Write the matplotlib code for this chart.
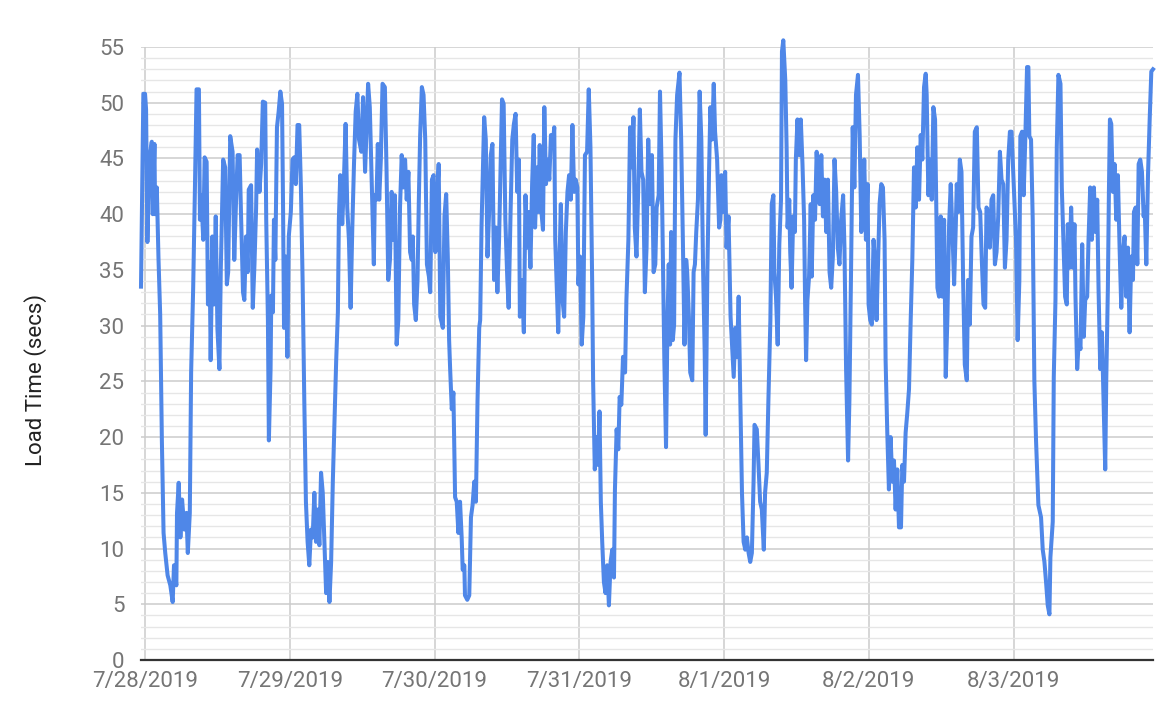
# -*- coding: utf-8 -*-
"""
Page load time over one week (7/28/2019 - 8/3/2019)
values read off the chart, time in hours since 7/28/2019 00:00
"""

import matplotlib
matplotlib.use('Agg')
import matplotlib.pyplot as plt
from matplotlib.ticker import MultipleLocator

plt.rcParams['font.family'] = ['Roboto', 'DejaVu Sans']

## data
day_labels = ['7/28/2019', '7/29/2019', '7/30/2019', '7/31/2019', '8/1/2019', '8/2/2019', '8/3/2019']

hours_0728 = [-0.67, -0.28, 0.0, 0.17, 0.39, 0.73, 1.12, 1.28, 1.56, 1.67, 1.95, 2.23, 2.51, 2.79, 3.07, 3.35,
              3.74, 4.19, 4.58, 4.8, 5.19, 5.3, 5.58, 5.86, 6.14, 6.53, 6.86, 7.09, 7.42, 7.64, 7.98, 8.26,
              8.54, 8.93, 9.1, 9.32, 9.65, 9.88, 10.21, 10.43, 10.71, 10.88, 11.16, 11.44, 11.72, 12.0, 12.33,
              12.56, 12.95, 13.28, 13.56, 13.78, 14.12, 14.51, 14.79, 15.07, 15.35, 15.68, 15.9, 16.24, 16.46,
              16.74, 17.02, 17.19, 17.58, 17.86, 18.14, 18.41, 18.58, 18.97, 19.25, 19.53, 19.92, 20.09, 20.37,
              20.53, 20.81, 20.93, 21.2, 21.37, 21.6, 21.87, 22.15, 22.43, 22.71, 22.88, 23.04, 23.32, 23.6, 23.83]
load_0728 = [33.5, 50.8, 50.8, 49.4, 37.5, 45, 46.5, 40, 46.3, 40, 42.4, 36, 31, 19.7, 11.4, 9.6,
             7.6, 6.7, 5.2, 8.5, 6.7, 13.2, 15.9, 11, 14.4, 11.7, 13.2, 9.6, 13.2, 25.8, 33.4, 42,
             51.2, 51.2, 39.5, 41.7, 37.7, 45.1, 44.7, 31.9, 35.7, 26.9, 38, 31.9, 39.8, 29.7, 26.1,
             35.1, 44.9, 44.2, 33.7, 34.8, 47, 45.6, 35.9, 40.9, 45.3, 45.3, 40.2, 33, 32.3,
             38, 34.8, 42.2, 42.6, 31.6, 35.5, 40.5, 45.8, 42, 44.5, 50.1, 50, 39.5, 30.5,
             19.7, 26.1, 32.7, 31.2, 39.5, 35.9, 47.8, 49.2, 51, 49.9, 40.6, 29.8, 36.2, 27.2, 38]

hours_0729 = [24.17, 24.45, 24.72, 25.0, 25.28, 25.56, 25.84, 26.12, 26.4, 26.67, 26.95, 27.23, 27.51, 27.79,
              28.07, 28.34, 28.62, 28.9, 29.18, 29.46, 29.74, 30.02, 30.29, 30.57, 30.85, 31.13, 31.41, 31.69,
              31.97, 32.13, 32.36, 32.69, 32.91, 33.25, 33.52, 33.8, 34.08, 34.36, 34.64, 34.92, 35.2, 35.47,
              35.86, 36.14, 36.48, 36.7, 36.98, 37.26, 37.54, 37.93, 38.09, 38.37, 38.59, 38.82, 39.09, 39.37,
              39.76, 40.04, 40.32, 40.6, 40.88, 41.16, 41.43, 41.71, 41.99, 42.27, 42.55, 42.83, 43.11, 43.38,
              43.66, 43.94, 44.22, 44.39, 44.61, 44.89, 45.17, 45.39, 45.61, 45.89, 46.17, 46.45, 46.73, 47.06,
              47.28, 47.56, 47.84, 48.12, 48.4, 48.68, 48.95]
load_0729 = [40.2, 44.9, 45.1, 42.7, 48, 48, 42.4, 34.1, 23.3, 14.2, 10.6, 8.5, 11.7, 11,
             15, 10.6, 13.5, 10.3, 16.8, 15, 10.6, 6, 8.8, 5.2, 8.8, 16, 21.5, 26.9,
             31.2, 39.5, 43.5, 39.1, 42, 48.1, 40.6, 37.7, 31.6, 38.8, 44.5, 49.2, 50.8, 46.7,
             45.6, 50.5, 43.8, 47.4, 51.7, 49.6, 43.8, 35.5, 41.7, 41.3, 46.3, 41.3, 44.9, 51.7,
             51.4, 43.8, 34.1, 35.9, 42, 37.7, 41.7, 28.3, 30.5, 40.6, 45.3, 42.4, 44.9, 41.3,
             43.8, 36.6, 35.9, 38, 31.9, 30.5, 34.1, 41.3, 47.1, 51.4, 50.7, 46.7, 35.5, 34.4,
             33, 43.1, 43.5, 36.6, 41.3, 44.5, 30.8]

hours_0730 = [49.37, 49.64, 49.92, 50.19, 50.41, 50.58, 50.85, 51.12, 51.4, 51.67, 51.95, 52.22, 52.49, 52.66,
              52.93, 53.04, 53.42, 53.75, 54.03, 54.3, 54.58, 54.85, 55.12, 55.4, 55.56, 55.78, 56.06, 56.22,
              56.49, 56.77, 57.04, 57.32, 57.59, 57.86, 58.14, 58.41, 58.69, 58.96, 59.18, 59.45, 59.73, 60.06,
              60.28, 60.6, 60.88, 61.15, 61.43, 61.7, 61.97, 62.14, 62.47, 62.8, 63.07, 63.34, 63.56, 63.89,
              64.17, 64.44, 64.66, 64.99, 65.21, 65.43, 65.65, 65.97, 66.19, 66.47, 66.74, 67.02, 67.29, 67.56,
              67.84, 68.0, 68.28, 68.5, 68.71, 68.93, 69.21, 69.48, 69.76, 70.03, 70.3, 70.58, 70.85, 71.13,
              71.4, 71.67, 71.84, 72.11, 72.39, 72.66, 72.93]
load_0730 = [29.8, 39.8, 41.8, 36.2, 28.7, 26.1, 22.5, 24, 14.6, 14.2, 11.4, 14.2, 11, 8.1,
             8.5, 5.8, 5.4, 5.8, 12.8, 13.9, 16, 14.2, 23.3, 29.8, 30.5, 38.8, 45.3, 48.7,
             46.7, 36.2, 40.2, 45.3, 46.3, 34.1, 38.8, 33, 37.7, 44.5, 50.3, 49.9, 39.5, 34.1,
             31.6, 40.2, 46.7, 48.1, 49, 42, 44.9, 30.8, 34.1, 29.4, 41.7, 37, 40.2, 35.2,
             42.7, 47.1, 38.8, 44.2, 40.2, 46.2, 40.6, 38.6, 49.6, 42.7, 44.9, 43.1, 47.1, 46,
             47.8, 37.7, 33, 29.4, 35.9, 40.9, 32.3, 30.8, 38.4, 42, 43.5, 41.3, 48, 42,
             43.1, 42.4, 33.7, 36.2, 28.3, 30.8, 45.3]

hours_0731 = [73.28, 73.56, 73.84, 74.12, 74.28, 74.56, 74.84, 75.12, 75.34, 75.56, 75.79, 76.07, 76.34, 76.62,
              76.9, 77.18, 77.46, 77.74, 77.9, 78.18, 78.46, 78.68, 78.96, 79.24, 79.58, 79.8, 80.13, 80.41,
              80.69, 80.97, 81.19, 81.47, 81.75, 82.03, 82.3, 82.58, 82.86, 83.14, 83.42, 83.7, 84.03, 84.31,
              84.59, 84.81, 85.15, 85.37, 85.65, 85.93, 86.09, 86.37, 86.6, 86.82, 87.04, 87.21, 87.49, 87.71,
              87.93, 88.21, 88.6, 88.88, 89.16, 89.43, 89.71, 89.88, 90.16, 90.38, 90.72, 90.94, 91.16, 91.38,
              91.66, 91.94, 92.22, 92.5, 92.78, 92.94, 93.22, 93.5, 93.72, 94.0, 94.28, 94.5, 94.84, 95.17,
              95.39, 95.56, 95.84, 96.17, 96.4, 96.73, 97.07]
load_0731 = [45.6, 51.2, 46, 34.1, 25.1, 17.1, 20, 17.5, 22.3, 14.2, 10.6, 7, 6, 8.5,
             4.9, 8.8, 9.9, 7.4, 15.3, 20.7, 18.9, 23.6, 22.9, 27.2, 25.8, 32.3, 37.7, 47.8,
             44.2, 48.7, 38.8, 36.2, 42, 49.4, 43.8, 43.1, 33, 37, 46.7, 40.9, 45.3, 34.8,
             35.5, 40.6, 41.7, 51, 43.8, 32.6, 26.9, 19.1, 30.1, 35.5, 28.3, 38.4, 28.7, 30.1,
             46.7, 50.7, 52.7, 46.7, 37.7, 28.3, 35.9, 34.8, 30.8, 25.8, 25.1, 34.8, 35.5, 38.4,
             41.3, 51, 46.7, 35.5, 27.5, 20.2, 34.8, 43.8, 49.6, 46.7, 51.7, 47.4, 44.9, 38.8,
             39.5, 43.5, 40.2, 43.8, 37, 39.8, 30.8]

hours_0801 = [97.59, 97.86, 98.14, 98.41, 98.69, 98.96, 99.23, 99.51, 99.78, 100.06, 100.33, 100.6, 100.88,
              101.04, 101.42, 101.7, 101.97, 102.25, 102.58, 102.79, 103.07, 103.34, 103.67, 103.89, 104.17,
              104.33, 104.6, 104.88, 105.15, 105.43, 105.59, 105.81, 106.14, 106.36, 106.52, 106.8, 106.96,
              107.18, 107.45, 107.73, 107.89, 108.16, 108.44, 108.71, 108.99, 109.26, 109.42, 109.59, 109.81,
              110.08, 110.36, 110.52, 110.79, 111.07, 111.34, 111.56, 111.84, 112.11, 112.38, 112.66, 112.93,
              113.21, 113.48, 113.75, 114.03, 114.3, 114.58, 114.85, 115.12, 115.4, 115.73, 115.95, 116.22,
              116.55, 116.77, 117.04, 117.32, 117.59, 117.86, 118.19, 118.47, 118.74, 119.01, 119.23, 119.51,
              119.78, 119.95, 120.22, 120.49, 120.77]
load_0801 = [25.4, 29.8, 27.2, 32.6, 23.3, 15, 10.6, 9.9, 11, 9.6, 8.8, 9.6, 16,
             21.1, 20.7, 17.5, 14.2, 13.5, 9.9, 15, 16.8, 23.3, 30.5, 40.9, 41.7,
             34.8, 32.6, 28.3, 37.3, 41.3, 54.6, 55.6, 52, 46, 38.8, 41.3, 36.6,
             33.4, 39.8, 38.4, 44.9, 48.5, 45.3, 48.5, 44.5, 39.5, 32.3, 26.9, 32.3,
             34.4, 40.9, 34.4, 41.7, 39.5, 45.6, 43.1, 40.9, 45.3, 39.8, 43.1, 38.4,
             43.1, 34.8, 33.4, 36.2, 44.9, 42, 37, 35.5, 39.5, 41.7, 37, 26.1,
             17.9, 23.3, 34.8, 47.8, 42.4, 50.7, 52.5, 47.1, 38.4, 40.6, 44.9, 37.7,
             42.7, 31.9, 30.5, 30.1, 37.7]

hours_0802 = [121.0, 121.27, 121.55, 121.77, 122.05, 122.33, 122.6, 122.77, 123.05, 123.32, 123.6, 123.88,
              124.16, 124.43, 124.71, 124.99, 125.32, 125.54, 125.82, 126.09, 126.37, 126.65, 126.93, 127.2,
              127.48, 127.76, 128.03, 128.31, 128.59, 128.86, 129.14, 129.42, 129.58, 129.86, 130.14, 130.42,
              130.69, 130.97, 131.19, 131.36, 131.63, 131.91, 132.19, 132.47, 132.74, 133.02, 133.3, 133.57,
              133.85, 134.13, 134.4, 134.57, 134.85, 135.07, 135.35, 135.62, 135.9, 136.23, 136.45, 136.73,
              137.01, 137.28, 137.56, 137.89, 138.17, 138.45, 138.72, 139.0, 139.28, 139.5, 139.78, 140.05,
              140.33, 140.61, 140.89, 141.16, 141.44, 141.72, 141.99, 142.27, 142.55, 142.82, 143.1, 143.38,
              143.65]
load_0802 = [35.9, 30.5, 36.2, 40.9, 42.7, 42.4, 37.7, 26.9, 20.4, 15.3, 20, 16,
             17.9, 13.5, 17.1, 11.9, 11.9, 17.5, 16, 20.4, 22.2, 24.3, 30.5, 35.9,
             44.2, 40.6, 46, 41.3, 47.1, 44.9, 51.4, 52.6, 50.7, 41.7, 44.9, 41.3,
             49.6, 48.5, 40.2, 33.4, 32.6, 39.8, 32.6, 39.5, 25.4, 30.8, 39.1, 42.7,
             38.4, 33.7, 38.8, 42.7, 40.2, 44.9, 43.8, 34.1, 26.5, 25.1, 34.1, 30.1,
             38, 38.8, 47.4, 47.8, 40.6, 40.2, 35.9, 31.9, 31.6, 40.6, 40.2, 37,
             41.3, 41.7, 35.5, 36.6, 39.8, 45.6, 43.1, 42.7, 35.2, 37.7, 44.9, 47.4,
             47.4]

hours_0803 = [144.39, 144.66, 144.94, 145.11, 145.39, 145.66, 145.94, 146.22, 146.44, 146.6, 146.88, 147.16,
              147.43, 147.71, 148.1, 148.54, 148.82, 149.1, 149.37, 149.65, 149.93, 150.09, 150.48, 150.65,
              150.93, 151.15, 151.42, 151.76, 151.98, 152.25, 152.53, 152.81, 152.97, 153.25, 153.53, 153.81,
              154.08, 154.25, 154.53, 154.8, 155.08, 155.36, 155.63, 155.86, 156.19, 156.41, 156.69, 156.96,
              157.3, 157.57, 157.85, 158.07, 158.35, 158.63, 158.9, 159.18, 159.35, 159.62, 159.79, 159.96,
              160.18, 160.45, 160.73, 161.01, 161.28, 161.56, 161.84, 162.12, 162.39, 162.67, 162.95, 163.22,
              163.5, 163.78, 163.94, 164.22, 164.5, 164.72, 164.99, 165.27, 165.55, 165.72, 165.99, 166.27,
              166.55, 166.82, 167.1]
load_0803 = [37.7, 28.7, 34, 47, 47.4, 41.7, 47, 53.2, 53.2, 47, 46.7, 39.5,
             25.1, 19.7, 13.9, 12.8, 9.9, 8.8, 7, 4.9, 4.1, 9.2, 12.4, 25.4,
             32.3, 46, 52.5, 51.7, 42.4, 37.7, 32.6, 31.9, 39.1, 35.2, 40.6, 35.2,
             39.1, 32.6, 26.1, 28.7, 27.9, 37.3, 29, 32.3, 32.6, 37.7, 42.4, 37.7,
             42.4, 38.4, 41.3, 33.4, 26.1, 29.4, 23.3, 17.1, 25.1, 33.4, 42, 48.5,
             48.1, 42, 44.5, 39.5, 43.5, 37, 31.6, 36.6, 38, 32.6, 37, 29.4,
             36.2, 34.1, 40.2, 40.6, 35.5, 44.5, 44.9, 43.8, 39.8, 40.6, 35.5, 43.5,
             48.5, 52.8, 53]

hours = hours_0728 + hours_0729 + hours_0730 + hours_0731 + hours_0801 + hours_0802 + hours_0803
load = load_0728 + load_0729 + load_0730 + load_0731 + load_0801 + load_0802 + load_0803

## plot
days = [h / 24.0 for h in hours]

fig = plt.figure(figsize=(11.74, 7.22), dpi=100)
ax = fig.add_axes([141 / 1174, 1 - 660 / 722, (1153 - 141) / 1174, (660 - 47) / 722])

ax.plot(days, load, color='#4f87e8', linewidth=2.9, solid_joinstyle='round', clip_on=False, zorder=3)

ax.set_xlim(days[0], days[-1])
ax.set_ylim(0, 55)

ax.yaxis.set_major_locator(MultipleLocator(5))
ax.yaxis.set_minor_locator(MultipleLocator(1))
ax.set_xticks(range(len(day_labels)))
ax.set_xticklabels(day_labels)

ax.grid(axis='y', which='major', color='#cccccc', linewidth=1.1)
ax.grid(axis='y', which='minor', color='#e6e6e6', linewidth=1.0)
ax.grid(axis='x', which='major', color='#cccccc', linewidth=1.1)
ax.set_axisbelow(True)

for side in ['top', 'right', 'left']:
    ax.spines[side].set_visible(False)
ax.spines['bottom'].set_color('#333333')
ax.spines['bottom'].set_linewidth(1.6)
ax.spines['bottom'].set_zorder(4)

ax.tick_params(axis='both', which='both', length=0, colors='#757575', labelsize=16)
ax.tick_params(axis='y', pad=12)
ax.tick_params(axis='x', pad=8)

ax.set_ylabel('Load Time (secs)', fontsize=16, color='#222222')
ax.yaxis.set_label_coords(-0.093, 0.457)

fig.savefig('out.png', dpi=100)
